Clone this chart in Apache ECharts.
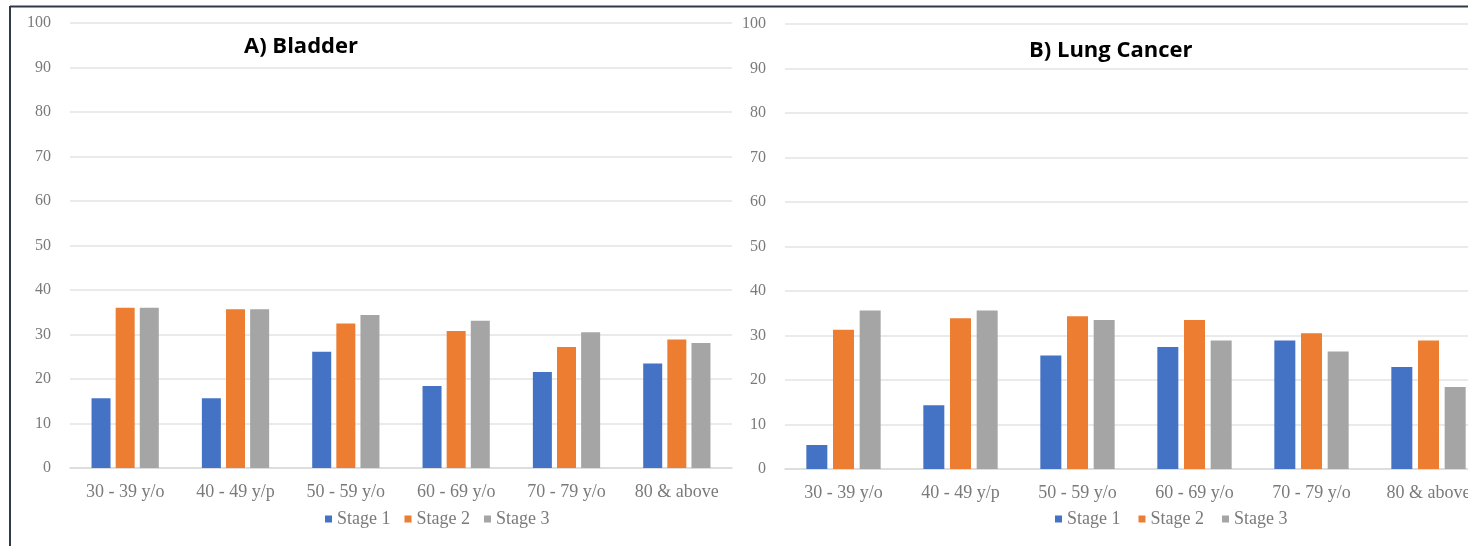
<!DOCTYPE html>
<html><head><meta charset="utf-8">
<script src="https://cdn.jsdelivr.net/npm/echarts@6/dist/echarts.min.js"></script>
<style>html,body{margin:0;padding:0;background:#fff}#c{width:1468px;height:546px}</style>
</head><body><div id="c"></div>
<script>
const categories = ['30 - 39 y/o','40 - 49 y/p','50 - 59 y/o','60 - 69 y/o','70 - 79 y/o','80 & above'];
const seriesNames = ['Stage 1','Stage 2','Stage 3'];
const bladderStage1 = [15.7, 15.7, 26.1, 18.4, 21.6, 23.5];
const bladderStage2 = [36.0, 35.7, 32.5, 30.8, 27.2, 28.9];
const bladderStage3 = [36.0, 35.7, 34.4, 33.1, 30.5, 28.1];
const lungStage1 = [5.4, 14.3, 25.5, 27.4, 28.9, 22.9];
const lungStage2 = [31.3, 33.9, 34.3, 33.5, 30.5, 28.9];
const lungStage3 = [35.6, 35.6, 33.5, 28.9, 26.4, 18.4];
const yTicks = [0,10,20,30,40,50,60,70,80,90,100];
const colors = ['#4472c4','#ed7d31','#a5a5a5'];
const titles = ['A) Bladder','B) Lung Cancer'];

const serif = '"Liberation Serif", "DejaVu Serif", serif';
const labelColor = '#7a7a7a';

function mkX(idx){
  return {type:'category', gridIndex:idx, data:categories,
    axisLine:{lineStyle:{color:'#d9d9d9', width:1.5}}, axisTick:{show:false},
    axisLabel:{color:labelColor, fontFamily:serif, fontSize:18, margin:15}};
}
function mkY(idx){
  return {type:'value', gridIndex:idx, min:yTicks[0], max:yTicks[yTicks.length-1], interval:10,
    axisLine:{show:false}, axisTick:{show:false},
    axisLabel:{color:labelColor, fontFamily:serif, fontSize:16, margin:19},
    splitLine:{lineStyle:{color:'#e3e3e3', width:1.5}}};
}
function mkS(name, data, i, idx, bw){
  return {name:name, type:'bar', xAxisIndex:idx, yAxisIndex:idx, data:data,
    barWidth:bw, barGap:'27%', itemStyle:{color:colors[i]}};
}
function mkLegend(x, gap){
  return {data:seriesNames, left:x, top:505, itemWidth:7, itemHeight:7, itemGap:gap, icon:'rect',
    textStyle:{fontFamily:serif, fontSize:18, color:labelColor, padding:[0,0,0,0]}};
}
const chart = echarts.init(document.getElementById('c'), null, {renderer:'canvas'});
chart.setOption({
  animation:false,
  backgroundColor:'#fff',
  title:[
    {text:titles[0], left:239, top:31, textStyle:{fontFamily:'"Open Sans", sans-serif', fontWeight:'bold', fontSize:22, color:'#000'}},
    {text:titles[1], left:1024, top:35, textStyle:{fontFamily:'"Open Sans", sans-serif', fontWeight:'bold', fontSize:22, color:'#000'}}
  ],
  legend:[mkLegend(320, 14), mkLegend(1050, 18)],
  grid:[
    {left:70, top:23, width:662, height:445, outerBoundsMode:'none'},
    {left:785, top:24, width:702, height:445, outerBoundsMode:'none'}
  ],
  xAxis:[mkX(0), mkX(1)],
  yAxis:[mkY(0), mkY(1)],
  series:[
    mkS(seriesNames[0], bladderStage1, 0, 0, 19),
    mkS(seriesNames[1], bladderStage2, 1, 0, 19),
    mkS(seriesNames[2], bladderStage3, 2, 0, 19),
    mkS(seriesNames[0], lungStage1, 0, 1, 21),
    mkS(seriesNames[1], lungStage2, 1, 1, 21),
    mkS(seriesNames[2], lungStage3, 2, 1, 21)
  ],
  graphic:[
    {type:'line', shape:{x1:10, y1:6.5, x2:1468, y2:6.5}, style:{stroke:'#2e3a48', lineWidth:2}},
    {type:'line', shape:{x1:10, y1:6, x2:10, y2:546}, style:{stroke:'#2e3a48', lineWidth:2}}
  ]
});
</script></body></html>
